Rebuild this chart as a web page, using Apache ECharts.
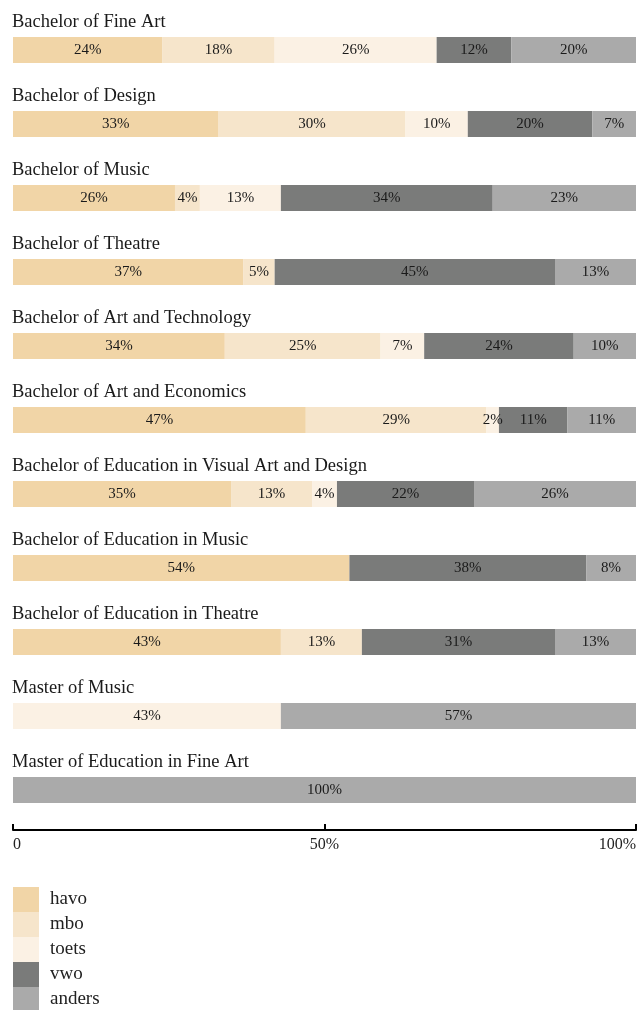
<!DOCTYPE html>
<html><head><meta charset="utf-8">
<script src="https://cdn.jsdelivr.net/npm/echarts@6/dist/echarts.min.js"></script>
<style>html,body{margin:0;padding:0;background:#fff}#c{width:640px;height:1010px}</style>
</head><body><div id="c"></div>
<script>
const categories = [
  "Bachelor of Fine Art",
  "Bachelor of Design",
  "Bachelor of Music",
  "Bachelor of Theatre",
  "Bachelor of Art and Technology",
  "Bachelor of Art and Economics",
  "Bachelor of Education in Visual Art and Design",
  "Bachelor of Education in Music",
  "Bachelor of Education in Theatre",
  "Master of Music",
  "Master of Education in Fine Art"
];
const seriesNames = ["havo", "mbo", "toets", "vwo", "anders"];
const havo   = [24, 33, 26, 37, 34, 47, 35, 54, 43, 0, 0];
const mbo    = [18, 30, 4, 5, 25, 29, 13, 0, 13, 0, 0];
const toets  = [26, 10, 13, 0, 7, 2, 4, 0, 0, 43, 0];
const vwo    = [12, 20, 34, 45, 24, 11, 22, 38, 31, 0, 0];
const anders = [20, 7, 23, 13, 10, 11, 26, 8, 13, 57, 100];
const tickLabels = {0: "0", 50: "50%", 100: "100%"};

const colors = ["#f1d5a7", "#f6e5cb", "#fbf1e4", "#7a7b7a", "#aaaaaa"];
const FONT = "'Liberation Serif', 'DejaVu Serif', serif";
const values = [havo, mbo, toets, vwo, anders];

const chart = echarts.init(document.getElementById('c'), null, {renderer: 'canvas'});
chart.setOption({
  animation: false,
  color: colors,
  textStyle: {fontFamily: FONT},
  grid: {left: 13, right: 4, top: 13, height: 814},
  legend: {
    orient: 'vertical', left: 13, top: 887, height: 130, padding: 0,
    itemWidth: 26, itemHeight: 25, itemGap: 0,
    icon: 'rect',
    data: seriesNames,
    textStyle: {fontFamily: FONT, fontSize: 19, color: '#222', padding: [0, 0, 0, 6]}
  },
  xAxis: {
    type: 'value', min: 0, max: 100, interval: 50, offset: 3,
    axisLine: {show: true, lineStyle: {color: '#000', width: 2}},
    axisTick: {show: true, inside: true, length: 6, lineStyle: {color: '#000', width: 2}},
    splitLine: {show: false},
    axisLabel: {
      margin: 7, fontFamily: FONT, fontSize: 16, color: '#222',
      alignMinLabel: 'left', alignMaxLabel: 'right',
      formatter: v => tickLabels[v] !== undefined ? tickLabels[v] : ''
    }
  },
  yAxis: {
    type: 'category', data: categories, inverse: true,
    axisLine: {show: false}, axisTick: {show: false},
    axisLabel: {
      inside: true, margin: -1, align: 'left', verticalAlign: 'bottom',
      padding: [0, 0, 18, 0],
      fontFamily: FONT, fontSize: 18.5, color: '#1a1a1a'
    },
    z: 10
  },
  series: seriesNames.map((name, i) => ({
    name: name, type: 'bar', stack: 'total', barWidth: 26,
    data: values[i].map(v => v === 0 ? null : v),
    itemStyle: {color: colors[i]},
    label: {
      show: true, position: 'inside',
      fontFamily: FONT, fontSize: 15, color: '#1a1a1a',
      formatter: p => p.value + '%'
    }
  }))
});
</script></body></html>
